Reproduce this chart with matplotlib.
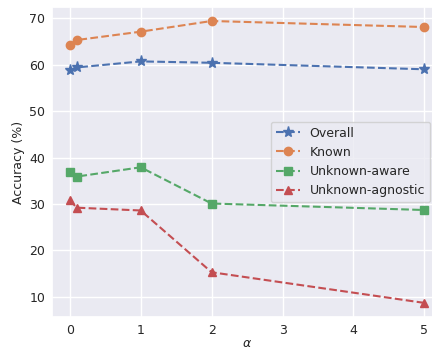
import numpy as np
import matplotlib
matplotlib.use("Agg")
import matplotlib.pyplot as plt
import seaborn as sns

sns.set_theme(style="darkgrid")

alpha = [0, 0.1, 1, 2, 5]
overall = [58.8, 59.4, 60.7, 60.4, 59.0]
known = [64.3, 65.3, 67.1, 69.4, 68.1]
unk_aware = [36.9, 35.9, 37.9, 30.1, 28.7]
unk_agnostic = [30.8, 29.2, 28.6, 15.3, 8.7]

labels = ["Overall", "Known", "Unknown-aware", "Unknown-agnostic"]
series = [overall, known, unk_aware, unk_agnostic]
markers = ["*", "o", "s", "^"]
colors = sns.color_palette("deep")

fig = plt.figure(figsize=(4.32, 3.5), dpi=100)
ax = fig.add_axes([0.1204, 0.0943, 0.903, 0.886])

for vals, lab, mk, c in zip(series, labels, markers, colors):
    ax.plot(alpha, vals, linestyle="--", marker=mk, color=c, label=lab,
            markersize=6 if mk != "*" else 8)

ax.set_xlabel(r"$\alpha$", fontsize=9, labelpad=0)
ax.set_ylabel("Accuracy (%)", fontsize=9, labelpad=3)
ax.tick_params(labelsize=9, length=0, pad=5)
ax.set_yticks([10, 20, 30, 40, 50, 60, 70])
ax.legend(loc="center right", fontsize=9, bbox_to_anchor=(0.985, 0.5),
          handlelength=1.9)

fig.savefig("out.png", dpi=100)
